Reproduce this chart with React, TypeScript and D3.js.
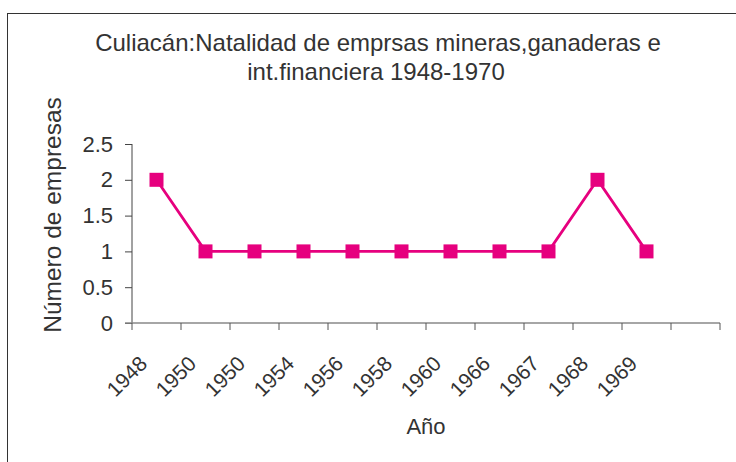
import * as d3 from 'd3';
import React, { useEffect, useRef } from 'react';

const years = ['1948', '1950', '1950', '1954', '1956', '1958', '1960', '1966', '1967', '1968', '1969', ''];
const empresas = [2, 1, 1, 1, 1, 1, 1, 1, 1, 2, 1];
const yTicks = [0, 0.5, 1, 1.5, 2, 2.5];

const W = 736;
const H = 462;
const margin = { left: 132, right: 16, top: 144, bottom: 139 };
const pink = '#e6007e';
const font = '"Liberation Sans", Arial, sans-serif';

function App() {
  const svgRef = useRef<SVGSVGElement>(null);

  useEffect(() => {
    const svg = d3.select(svgRef.current);
    svg.selectAll('*').remove();

    const x = d3
      .scaleBand<number>()
      .domain(years.map((d, i) => i))
      .range([margin.left, W - margin.right]);

    const y = d3
      .scaleLinear()
      .domain([0, 2.5])
      .range([H - margin.bottom, margin.top]);

    // frame
    svg
      .append('rect')
      .attr('x', 7.5)
      .attr('y', 13.5)
      .attr('width', W)
      .attr('height', H)
      .attr('fill', 'none')
      .attr('stroke', '#333')
      .attr('stroke-width', 1);

    // title
    const title = svg
      .append('text')
      .attr('x', 378)
      .attr('y', 51)
      .attr('text-anchor', 'middle')
      .attr('font-family', font)
      .attr('font-size', 24)
      .attr('fill', '#333');
    title.append('tspan').attr('x', 378).text('Culiacán:Natalidad de emprsas mineras,ganaderas e');
    title.append('tspan').attr('x', 376).attr('dy', 29).text('int.financiera 1948-1970');

    // y axis
    const yAxis = d3
      .axisLeft(y)
      .tickValues(yTicks)
      .tickFormat(d => String(d))
      .tickSize(7)
      .tickPadding(12);
    const gy = svg
      .append('g')
      .attr('transform', `translate(${margin.left},0)`)
      .call(yAxis);
    gy.select('.domain').attr('stroke', '#444').attr('d', `M0,${y(2.5)}V${y(0)}`);
    gy.selectAll('.tick line').attr('stroke', '#444');
    gy.selectAll('.tick text')
      .attr('font-family', font)
      .attr('font-size', 22)
      .attr('fill', '#333');

    // x axis
    const xEdges = years.map((d, i) => x(i)!).concat([W - margin.right]);
    const gx = svg.append('g');
    gx.append('line')
      .attr('x1', margin.left - 7)
      .attr('x2', W - margin.right)
      .attr('y1', y(0))
      .attr('y2', y(0))
      .attr('stroke', '#888')
      .attr('stroke-width', 1.6);
    gx.selectAll('.xtick')
      .data(xEdges)
      .join('line')
      .attr('class', 'xtick')
      .attr('x1', d => d)
      .attr('x2', d => d)
      .attr('y1', y(0))
      .attr('y2', y(0) + 7)
      .attr('stroke', '#555');
    gx.selectAll('.xlabel')
      .data(years)
      .join('text')
      .attr('class', 'xlabel')
      .attr('text-anchor', 'end')
      .attr('font-family', font)
      .attr('font-size', 21)
      .attr('fill', '#333')
      .attr('transform', (d, i) => `translate(${x(i)! + x.bandwidth() / 2 - 8},${y(0) + 42}) rotate(-45)`)
      .text(d => d);

    // axis titles
    svg
      .append('text')
      .attr('transform', `translate(61,${215}) rotate(-90)`)
      .attr('text-anchor', 'middle')
      .attr('font-family', font)
      .attr('font-size', 24.5)
      .attr('fill', '#333')
      .text('Número de empresas');

    svg
      .append('text')
      .attr('x', (margin.left + W - margin.right) / 2)
      .attr('y', 434)
      .attr('text-anchor', 'middle')
      .attr('font-family', font)
      .attr('font-size', 22)
      .attr('fill', '#333')
      .text('Año');

    // series
    const cx = (i: number) => x(i)! + x.bandwidth() / 2;
    const line = d3
      .line<number>()
      .x((d, i) => cx(i))
      .y(d => y(d));

    svg
      .append('path')
      .datum(empresas)
      .attr('d', line)
      .attr('fill', 'none')
      .attr('stroke', pink)
      .attr('stroke-width', 2.8);

    const s = 14;
    svg
      .selectAll('.marker')
      .data(empresas)
      .join('rect')
      .attr('class', 'marker')
      .attr('x', (d, i) => cx(i) - s / 2)
      .attr('y', d => y(d) - s / 2)
      .attr('width', s)
      .attr('height', s)
      .attr('fill', pink);
  }, []);

  return (
    <svg
      ref={svgRef}
      width={W}
      height={H}
      style={{ position: 'absolute', left: 0, top: 0, background: '#fff' }}
    />
  );
}

export default App;
